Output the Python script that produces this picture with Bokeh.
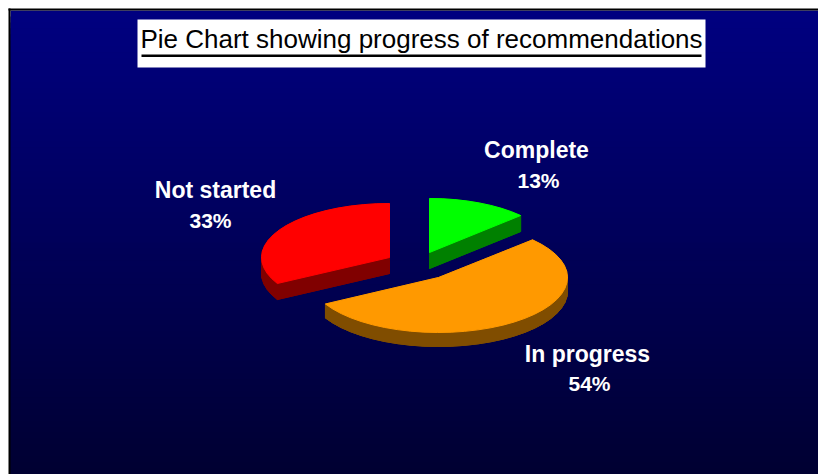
import math
from bokeh.plotting import figure
from bokeh.core.properties import value
from bokeh.embed import file_html
from bokeh.resources import INLINE

title_text = "Pie Chart showing progress of recommendations"
categories = ["Complete", "In progress", "Not started"]
shares = [13, 54, 33]
top_colors = ["#00FF00", "#FF9900", "#FF0000"]
side_colors = ["#008000", "#804D00", "#800000"]

# layout of the exploded slices (page pixels)
apex = [(429, 252), (438, 277), (389, 257)]
radii = [(125, 54), (129, 55), (128, 54)]
depth = [16, 14, 16]
label_pos = [(536, 149, 538, 180), (587, 353, 589, 383), (215, 189, 210, 220)]

p = figure(width=818, height=474, x_range=(0, 818), y_range=(474, 0),
           toolbar_location=None, output_backend="svg", min_border=0)
p.axis.visible = False
p.grid.visible = False
p.outline_line_color = None
p.background_fill_color = "#ffffff"
p.border_fill_color = "#ffffff"

# gradient background, painted top to bottom so that no seams show
bands = 78
for i in range(bands):
    t = i / (bands - 1)
    b = round(128 + (50 - 128) * t)
    y0 = 10 + i * 464 / bands
    p.quad(left=10, right=818, top=y0, bottom=474, fill_color=f"#0000{b:02x}", line_color=None)

# frame
p.quad(left=8, right=818, top=8, bottom=10, fill_color="#000000", line_color=None)
p.quad(left=8, right=10, top=8, bottom=474, fill_color="#000000", line_color=None)

# title
p.quad(left=137, right=705, top=19, bottom=67, fill_color="#ffffff", line_color=None)
p.text(x=[421], y=[38], text=[title_text], text_align="center", text_baseline="middle",
       text_font=value("Liberation Sans"), text_font_size="26px", text_color="#000000")
p.quad(left=141, right=701, top=54, bottom=56.5, fill_color="#000000", line_color=None)

# slices, back to front
def outline(i, start, sweep):
    cx, cy = apex[i]
    rx, ry = radii[i]
    n = max(2, round(sweep / 6))
    pts = [(cx, cy)]
    for k in range(n + 1):
        a = math.radians(start + sweep * k / n)
        pts.append((cx + rx * math.sin(a), cy - ry * math.cos(a)))
    return pts

total = sum(shares)
starts = []
acc = 0
for s in shares:
    starts.append(acc / total * 360)
    acc += s

for i in [2, 0, 1]:
    sweep = shares[i] / total * 360
    pts = outline(i, starts[i], sweep)
    d = depth[i]
    xs, ys = [], []
    m = len(pts)
    for k in range(m):
        (x0, y0), (x1, y1) = pts[k], pts[(k + 1) % m]
        xs.append([x0, x1, x1, x0])
        ys.append([y0, y1, y1 + d, y0 + d])
    p.patches(xs, ys, fill_color=side_colors[i], line_color=side_colors[i], line_width=1)
    p.patch([q[0] for q in pts], [q[1] + d for q in pts], fill_color=side_colors[i], line_color=side_colors[i])
    p.patch([q[0] for q in pts], [q[1] for q in pts], fill_color=top_colors[i], line_color=top_colors[i], line_width=1)

# labels
for name, s, (x1, y1, x2, y2) in zip(categories, shares, label_pos):
    p.text(x=[x1], y=[y1], text=[name], text_align="center", text_baseline="middle",
           text_font=value("Liberation Sans"), text_font_style="bold", text_font_size="23px", text_color="#ffffff")
    p.text(x=[x2], y=[y2], text=[f"{s}%"], text_align="center", text_baseline="middle",
           text_font=value("Liberation Sans"), text_font_style="bold", text_font_size="21px", text_color="#ffffff")

open("out.html", "w").write(file_html(p, INLINE))
